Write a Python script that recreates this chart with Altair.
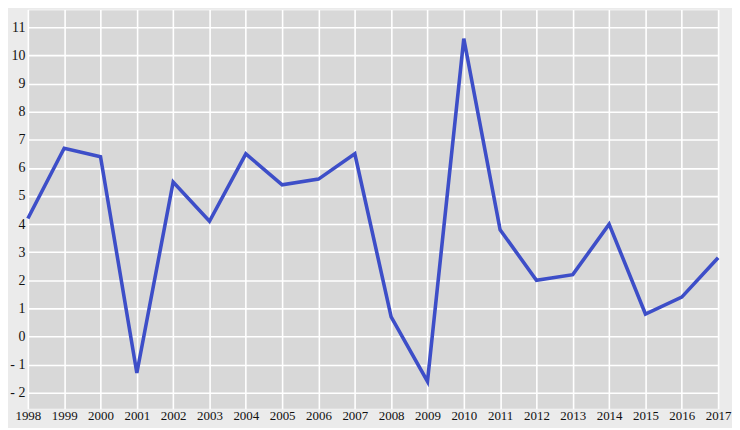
import altair as alt
import pandas as pd

years = list(range(1998, 2018))
values = [4.2, 6.7, 6.4, -1.3, 5.5, 4.1, 6.5, 5.4, 5.6, 6.5,
          0.7, -1.6, 10.6, 3.8, 2.0, 2.2, 4.0, 0.8, 1.4, 2.8]
y_ticks = list(range(-2, 12))

df = pd.DataFrame({"year": years, "value": values})

chart = alt.Chart(df).mark_line(color="#3d4ec8", strokeWidth=3.6).encode(
    x=alt.X("year:Q", scale=alt.Scale(domain=[1998, 2017], nice=False, zero=False),
            axis=alt.Axis(values=years, format="d", title=None, labelFont="Liberation Serif",
                          labelFontSize=13, labelColor="#111", ticks=False, domain=False,
                          labelPadding=1, gridColor="white", gridWidth=1.6, gridOpacity=1,
                          labelFlush=False, labelOverlap=False)),
    y=alt.Y("value:Q", scale=alt.Scale(domain=[-2.57, 11.64], nice=False, zero=False),
            axis=alt.Axis(values=y_ticks, title=None, labelFont="Liberation Serif",
                          labelFontSize=14, labelColor="#111", ticks=False, domain=False,
                          labelPadding=3, gridColor="white", gridWidth=1.6, gridOpacity=1,
                          labelExpr="datum.value < 0 ? '- ' + abs(datum.value) : datum.label",
                          labelOverlap=False)),
).properties(
    width=695, height=402,
    autosize=alt.AutoSizeParams(type="none"),
    padding={"left": 20, "top": 0, "right": 14, "bottom": 18},
    background="#ebebeb",
).configure_view(fill="#d8d8d8", stroke="#f4f4f4", strokeWidth=1)

chart.save("out.html", embed_options={"renderer": "svg", "actions": False})
